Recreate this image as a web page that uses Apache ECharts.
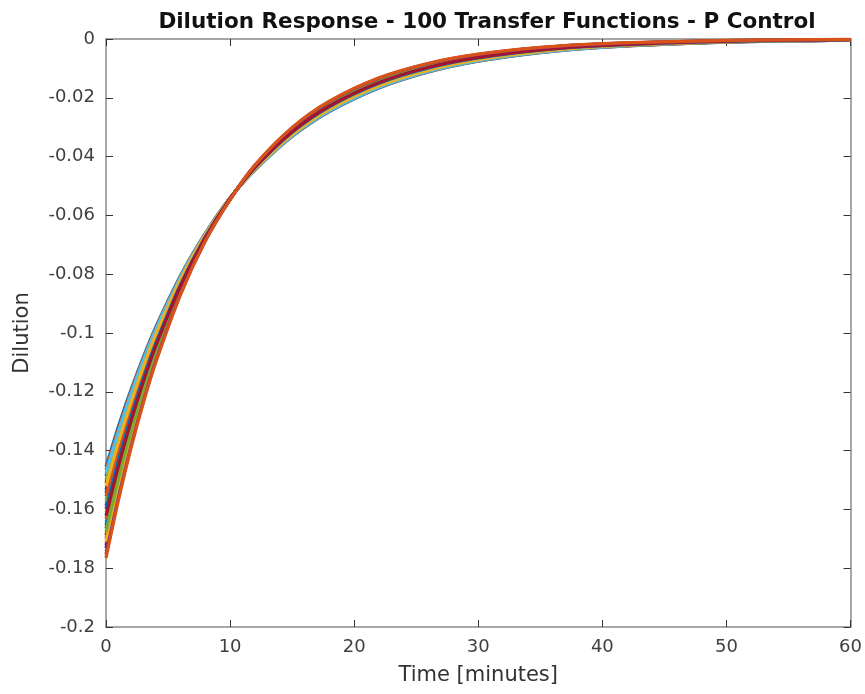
<!DOCTYPE html>
<html><head><meta charset="utf-8">
<script src="https://cdn.jsdelivr.net/npm/echarts@6/dist/echarts.min.js"></script>
<style>html,body{margin:0;padding:0;background:#fff}#chart{width:865px;height:694px}</style>
</head><body><div id="chart"></div>
<script>
// time points (minutes)
const times = [0, 1, 2, 3, 4, 6, 8, 10, 12, 15, 18, 22, 26, 30, 35, 40, 50, 60];
// each row: the dilution of the 29 drawn responses at the matching time
const dilutionAtTime = [
  [-0.1455,-0.1466,-0.1477,-0.1488,-0.1499,-0.1510,-0.1521,-0.1533,-0.1544,-0.1555,-0.1566,-0.1577,-0.1588,-0.1599,-0.1610,-0.1621,-0.1632,-0.1643,-0.1654,-0.1665,-0.1676,-0.1688,-0.1699,-0.1710,-0.1721,-0.1732,-0.1743,-0.1754,-0.1765],
  [-0.1318,-0.1327,-0.1336,-0.1345,-0.1354,-0.1363,-0.1372,-0.1381,-0.1390,-0.1399,-0.1408,-0.1417,-0.1426,-0.1435,-0.1444,-0.1453,-0.1461,-0.1470,-0.1479,-0.1488,-0.1497,-0.1506,-0.1515,-0.1524,-0.1533,-0.1542,-0.1551,-0.1560,-0.1569],
  [-0.1195,-0.1202,-0.1209,-0.1216,-0.1223,-0.1230,-0.1238,-0.1245,-0.1252,-0.1259,-0.1266,-0.1273,-0.1280,-0.1287,-0.1295,-0.1302,-0.1309,-0.1316,-0.1323,-0.1330,-0.1337,-0.1344,-0.1352,-0.1359,-0.1366,-0.1373,-0.1380,-0.1387,-0.1394],
  [-0.10825,-0.10881,-0.10937,-0.10993,-0.11049,-0.11105,-0.11161,-0.11217,-0.11273,-0.11329,-0.11385,-0.11441,-0.11497,-0.11553,-0.11609,-0.11665,-0.11721,-0.11777,-0.11833,-0.11889,-0.11945,-0.12001,-0.12057,-0.12113,-0.12169,-0.12225,-0.12281,-0.12337,-0.12393],
  [-0.09809,-0.09852,-0.09895,-0.09938,-0.09981,-0.10024,-0.10067,-0.10110,-0.10154,-0.10197,-0.10240,-0.10283,-0.10326,-0.10369,-0.10412,-0.10455,-0.10498,-0.10541,-0.10584,-0.10627,-0.10670,-0.10713,-0.10757,-0.10800,-0.10843,-0.10886,-0.10929,-0.10972,-0.11015],
  [-0.08054,-0.08077,-0.08100,-0.08123,-0.08146,-0.08170,-0.08193,-0.08216,-0.08239,-0.08262,-0.08285,-0.08308,-0.08331,-0.08354,-0.08377,-0.08401,-0.08424,-0.08447,-0.08470,-0.08493,-0.08516,-0.08539,-0.08562,-0.08585,-0.08608,-0.08632,-0.08655,-0.08678,-0.08701],
  [-0.06613,-0.06622,-0.06632,-0.06641,-0.06650,-0.06659,-0.06669,-0.06678,-0.06687,-0.06696,-0.06706,-0.06715,-0.06724,-0.06734,-0.06743,-0.06752,-0.06761,-0.06771,-0.06780,-0.06789,-0.06799,-0.06808,-0.06817,-0.06826,-0.06836,-0.06845,-0.06854,-0.06864,-0.06873],
  [-0.05400,-0.05402,-0.05404,-0.05406,-0.05409,-0.05411,-0.05413,-0.05415,-0.05417,-0.05419,-0.05421,-0.05424,-0.05426,-0.05428,-0.05430,-0.05432,-0.05434,-0.05436,-0.05439,-0.05441,-0.05443,-0.05445,-0.05447,-0.05449,-0.05451,-0.05454,-0.05456,-0.05458,-0.05460],
  [-0.04458,-0.04452,-0.04446,-0.04440,-0.04434,-0.04428,-0.04422,-0.04416,-0.04410,-0.04404,-0.04398,-0.04392,-0.04386,-0.04380,-0.04374,-0.04367,-0.04361,-0.04355,-0.04349,-0.04343,-0.04337,-0.04331,-0.04325,-0.04319,-0.04313,-0.04307,-0.04301,-0.04295,-0.04289],
  [-0.03317,-0.03306,-0.03295,-0.03284,-0.03273,-0.03263,-0.03252,-0.03241,-0.03230,-0.03219,-0.03208,-0.03197,-0.03186,-0.03175,-0.03164,-0.03154,-0.03143,-0.03132,-0.03121,-0.03110,-0.03099,-0.03088,-0.03077,-0.03066,-0.03056,-0.03045,-0.03034,-0.03023,-0.03012],
  [-0.02468,-0.02455,-0.02443,-0.02430,-0.02418,-0.02405,-0.02392,-0.02380,-0.02367,-0.02355,-0.02342,-0.02329,-0.02317,-0.02304,-0.02292,-0.02279,-0.02266,-0.02254,-0.02241,-0.02229,-0.02216,-0.02203,-0.02191,-0.02178,-0.02165,-0.02153,-0.02140,-0.02128,-0.02115],
  [-0.01664,-0.01652,-0.01639,-0.01627,-0.01615,-0.01603,-0.01590,-0.01578,-0.01566,-0.01553,-0.01541,-0.01529,-0.01517,-0.01504,-0.01492,-0.01480,-0.01467,-0.01455,-0.01443,-0.01431,-0.01418,-0.01406,-0.01394,-0.01381,-0.01369,-0.01357,-0.01345,-0.01332,-0.01320],
  [-0.011215,-0.011109,-0.011002,-0.010896,-0.010789,-0.010683,-0.010576,-0.010470,-0.010364,-0.010257,-0.010151,-0.010044,-0.009938,-0.009831,-0.009725,-0.009619,-0.009512,-0.009406,-0.009299,-0.009193,-0.009086,-0.008980,-0.008873,-0.008767,-0.008661,-0.008554,-0.008448,-0.008341,-0.008235],
  [-0.00756,-0.00747,-0.00739,-0.00730,-0.00721,-0.00713,-0.00704,-0.00695,-0.00687,-0.00678,-0.00670,-0.00661,-0.00652,-0.00644,-0.00635,-0.00626,-0.00618,-0.00609,-0.00600,-0.00592,-0.00583,-0.00574,-0.00566,-0.00557,-0.00548,-0.00540,-0.00531,-0.00523,-0.00514],
  [-0.004619,-0.004556,-0.004493,-0.004429,-0.004366,-0.004303,-0.004240,-0.004177,-0.004113,-0.004050,-0.003987,-0.003924,-0.003861,-0.003797,-0.003734,-0.003671,-0.003608,-0.003545,-0.003481,-0.003418,-0.003355,-0.003292,-0.003229,-0.003165,-0.003102,-0.003039,-0.002976,-0.002913,-0.002850],
  [-0.002822,-0.002778,-0.002733,-0.002689,-0.002645,-0.002601,-0.002556,-0.002512,-0.002468,-0.002423,-0.002379,-0.002335,-0.002291,-0.002246,-0.002202,-0.002158,-0.002113,-0.002069,-0.002025,-0.001980,-0.001936,-0.001892,-0.001848,-0.001803,-0.001759,-0.001715,-0.001670,-0.001626,-0.001581],
  [-0.001053,-0.001033,-0.001013,-0.000992,-0.000972,-0.000952,-0.000932,-0.000911,-0.000891,-0.000871,-0.000851,-0.000830,-0.000810,-0.000790,-0.000770,-0.000749,-0.000729,-0.000709,-0.000689,-0.000668,-0.000648,-0.000628,-0.000608,-0.000587,-0.000567,-0.000547,-0.000527,-0.000506,-0.000486],
  [-0.000393,-0.000384,-0.000376,-0.000367,-0.000358,-0.000350,-0.000341,-0.000332,-0.000324,-0.000315,-0.000306,-0.000298,-0.000289,-0.000280,-0.000272,-0.000263,-0.000254,-0.000246,-0.000237,-0.000228,-0.000220,-0.000211,-0.000202,-0.000193,-0.000185,-0.000176,-0.000167,-0.000159,-0.000150]
];
const xTickValues = [0, 10, 20, 30, 40, 50, 60];
const yTickValues = [-0.2, -0.18, -0.16, -0.14, -0.12, -0.1, -0.08, -0.06, -0.04, -0.02, 0];
const BLUE = '#0072BD', ORANGE = '#D95319', YELLOW = '#EDB120', PURPLE = '#7E2F8E',
      GREEN = '#77AC30', CYAN = '#4DBEEE', RED = '#A2142F';
const lineColors = [BLUE, ORANGE, CYAN, PURPLE, GREEN, RED, YELLOW, BLUE, RED, ORANGE,
                    CYAN, GREEN, PURPLE, BLUE, YELLOW, RED, ORANGE, CYAN, BLUE, PURPLE,
                    GREEN, RED, ORANGE, YELLOW, BLUE, RED, CYAN, PURPLE, ORANGE];
// order in which the responses are drawn (last on top)
const drawOrder = [0, 14, 7, 21, 3, 17, 10, 24, 5, 19, 12, 26, 1, 8, 22, 4, 18, 11, 25, 2, 16, 9, 23, 6, 20, 13, 15, 27, 28];
const titleText = 'Dilution Response - 100 Transfer Functions - P Control';
const xName = 'Time [minutes]';
const yName = 'Dilution';

const FONT = 'DejaVu Sans';
const frame = { show: true, onZero: false, lineStyle: { color: '#8a8a8a', width: 1.5 } };
const tick = { show: true, inside: true, length: 7, lineStyle: { color: '#333', width: 1 } };
const labelStyle = { fontFamily: FONT, fontSize: 18, color: '#404040' };

const series = drawOrder.map(k => ({
  type: 'line',
  xAxisIndex: 0, yAxisIndex: 0,
  data: times.map((t, j) => [t, dilutionAtTime[j][k]]),
  smooth: 0.3,
  showSymbol: false,
  silent: true,
  lineStyle: { color: lineColors[k], width: 3.2 },
  animation: false
}));

const chart = echarts.init(document.getElementById('chart'), null, { renderer: 'canvas' });
chart.setOption({
  backgroundColor: '#fff',
  animation: false,
  title: {
    text: titleText, left: 482, top: 6, textAlign: 'center',
    textStyle: { fontFamily: FONT, fontSize: 21.5, fontWeight: 'bold', color: '#111' }
  },
  grid: { left: 106, right: 14, top: 39, bottom: 67, containLabel: false },
  xAxis: [
    { type: 'value', position: 'bottom', min: xTickValues[0], max: xTickValues[xTickValues.length - 1],
      interval: xTickValues[1] - xTickValues[0],
      axisLine: frame, axisTick: tick, splitLine: { show: false },
      axisLabel: Object.assign({ margin: 11 }, labelStyle),
      name: xName, nameLocation: 'middle', nameGap: 38,
      nameTextStyle: { fontFamily: FONT, fontSize: 21, color: '#333' } },
    { type: 'value', position: 'top', min: xTickValues[0], max: xTickValues[xTickValues.length - 1],
      interval: xTickValues[1] - xTickValues[0],
      axisLine: frame, axisTick: tick, splitLine: { show: false }, axisLabel: { show: false } }
  ],
  yAxis: [
    { type: 'value', position: 'left', min: yTickValues[0], max: yTickValues[yTickValues.length - 1],
      interval: 0.02,
      axisLine: frame, axisTick: tick, splitLine: { show: false },
      axisLabel: Object.assign({ margin: 11, formatter: v => String(+v.toFixed(2)) }, labelStyle),
      name: yName, nameLocation: 'middle', nameGap: 73, nameRotate: 90,
      nameTextStyle: { fontFamily: FONT, fontSize: 21, color: '#333' } },
    { type: 'value', position: 'right', min: yTickValues[0], max: yTickValues[yTickValues.length - 1],
      interval: 0.02,
      axisLine: frame, axisTick: tick, splitLine: { show: false }, axisLabel: { show: false } }
  ],
  series: series
});
</script>
</body></html>
